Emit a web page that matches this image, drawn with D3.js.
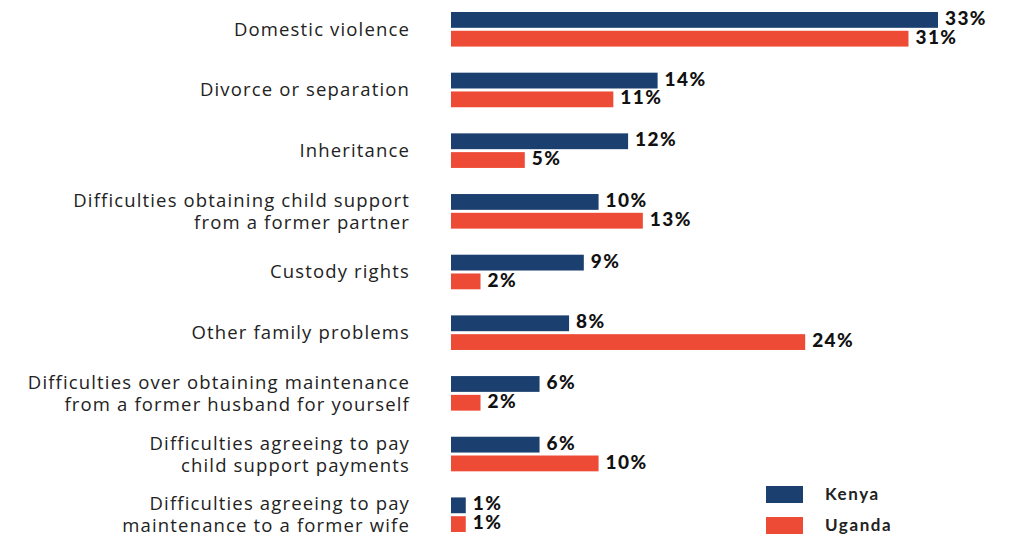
<!DOCTYPE html>
<html><head><meta charset="utf-8">
<script src="https://cdn.jsdelivr.net/npm/d3@7"></script>
<style>
html,body{margin:0;padding:0;background:#fff;}
svg{display:block;}
</style></head>
<body>
<svg id="chart" width="1013" height="536"></svg>
<script>
const categories = [
  ["Domestic violence"],
  ["Divorce or separation"],
  ["Inheritance"],
  ["Difficulties obtaining child support", "from a former partner"],
  ["Custody rights"],
  ["Other family problems"],
  ["Difficulties over obtaining maintenance", "from a former husband for yourself"],
  ["Difficulties agreeing to pay", "child support payments"],
  ["Difficulties agreeing to pay", "maintenance to a former wife"]
];
const seriesNames = ["Kenya", "Uganda"];
const kenya  = [33, 14, 12, 10, 9, 8, 6, 6, 1];
const uganda = [31, 11, 5, 13, 2, 24, 2, 10, 1];
const colors = ["#1b3f6e", "#ee4b36"];

const svg = d3.select("#chart");
const keys = categories.map((c, i) => "c" + i);
const rows = keys.map((k, i) => ({ key: k, lines: categories[i], vals: [kenya[i], uganda[i]] }));

const x = d3.scaleLinear().domain([0, 33]).range([451, 938]);
const y = d3.scaleBand().domain(keys).range([12, 532]).paddingInner(0.43).paddingOuter(0);
const ySub = d3.scaleBand().domain(seriesNames).range([0, y.bandwidth()]).paddingInner(0.158);

const catFont = "'Open Sans', sans-serif";
const valFont = "Lato, 'Open Sans', sans-serif";

const g = svg.selectAll("g.row").data(rows).join("g")
  .attr("class", "row")
  .attr("transform", d => `translate(0,${y(d.key)})`);

g.selectAll("rect").data(d => d.vals.map((v, j) => ({ v, s: seriesNames[j], j }))).join("rect")
  .attr("x", x(0))
  .attr("y", d => ySub(d.s))
  .attr("width", d => x(d.v) - x(0))
  .attr("height", ySub.bandwidth())
  .attr("fill", d => colors[d.j]);

g.selectAll("text.val").data(d => d.vals.map((v, j) => ({ v, s: seriesNames[j], j }))).join("text")
  .attr("class", "val")
  .attr("x", d => x(d.v) + 7)
  .attr("y", d => ySub(d.s) + ySub.bandwidth() / 2)
  .attr("dy", "0.27em")
  .attr("font-family", valFont)
  .attr("font-weight", 900)
  .attr("font-size", 19)
  .attr("letter-spacing", "1.4px")
  .attr("fill", "#111")
  .text(d => d.v + "%");

g.append("text")
  .attr("class", "cat")
  .attr("x", 410)
  .attr("text-anchor", "end")
  .attr("font-family", catFont)
  .attr("font-size", 18.5)
  .attr("letter-spacing", "1.15px")
  .attr("fill", "#222")
  .each(function(d) {
    const t = d3.select(this);
    const n = d.lines.length;
    const lh = 22;
    d.lines.forEach((ln, i) => {
      t.append("tspan")
        .attr("x", 410)
        .attr("y", y.bandwidth() / 2 + (i - (n - 1) / 2) * lh)
        .attr("dy", "0.35em")
        .text(ln);
    });
  });

// legend
const legY = d3.scaleBand().domain(seriesNames).range([486, 534]).paddingInner(0.4516);
const leg = svg.selectAll("g.leg").data(seriesNames).join("g").attr("class", "leg");
leg.append("rect")
  .attr("x", 766).attr("y", d => legY(d))
  .attr("width", 37).attr("height", legY.bandwidth())
  .attr("fill", (d, i) => colors[i]);
leg.append("text")
  .attr("x", 825).attr("y", d => legY(d) + legY.bandwidth() / 2)
  .attr("dy", "0.33em")
  .attr("font-family", valFont)
  .attr("font-weight", 700)
  .attr("font-size", 17)
  .attr("letter-spacing", "1.6px")
  .attr("fill", "#222")
  .text(d => d);
</script>
</body></html>
